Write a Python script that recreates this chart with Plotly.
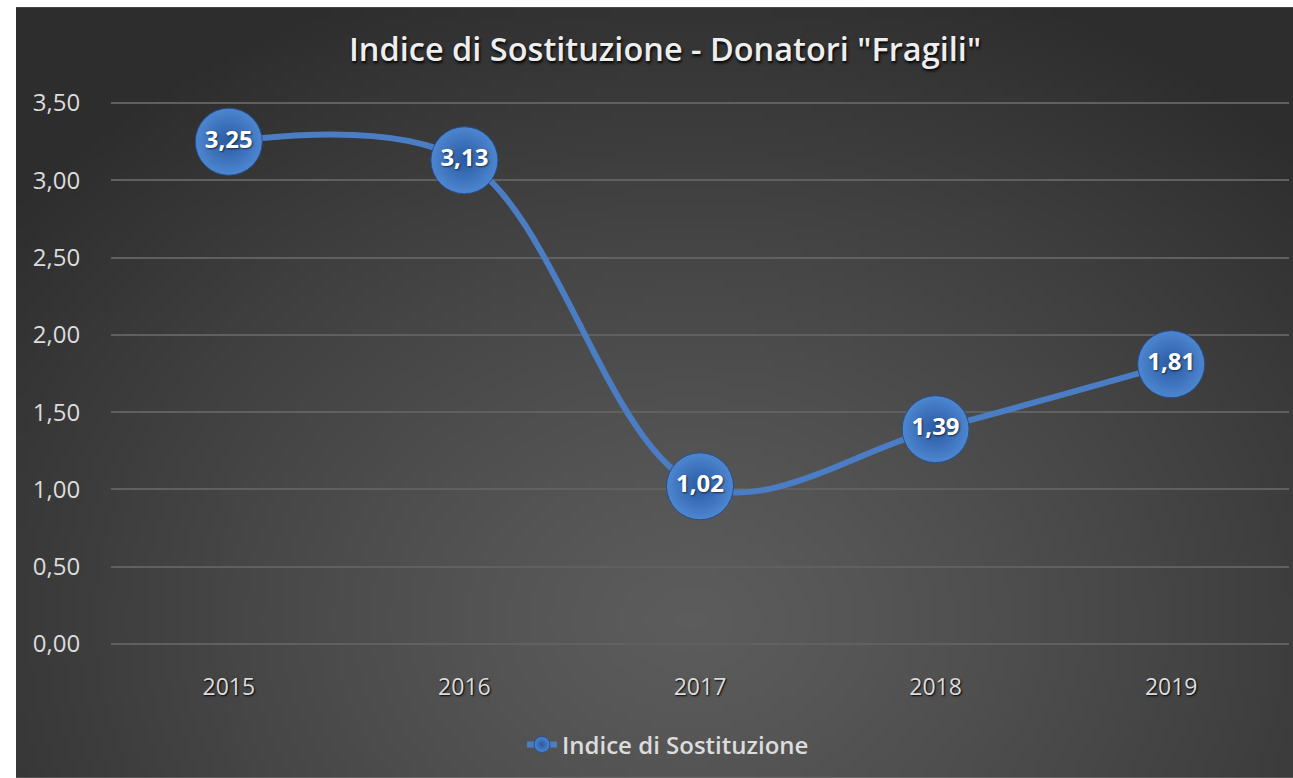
import base64, struct, zlib, math
import plotly.graph_objects as go

# ---- data ----
years = ["2015", "2016", "2017", "2018", "2019"]
indice = [3.25, 3.13, 1.02, 1.39, 1.81]
y_ticks = [0, 0.5, 1, 1.5, 2, 2.5, 3, 3.5]
title_text = 'Indice di Sostituzione - Donatori "Fragili"'
series_name = "Indice di Sostituzione"

# ---- background gradient image (styling only) ----
W_IMG, H_IMG = 160, 100
BG_W, BG_H = 1277, 771  # px area covered (from x=16, y=7)
cx, cy = (690 - 16) / BG_W, (620 - 7) / BG_H
rows = []
for j in range(H_IMG):
    row = bytearray()
    for i in range(W_IMG):
        u = (i + 0.5) / W_IMG
        v = (j + 0.5) / H_IMG
        dx = (u - cx) * BG_W / 860.0
        dy = (v - cy) * BG_H / 680.0
        d = min(1.0, math.sqrt(dx * dx + dy * dy))
        c = int(round(92 + (45 - 92) * d ** 1.2))
        row += bytes([c, c, c])
    rows.append(bytes(row))


def make_png(w, h, rows):
    raw = b"".join(b"\x00" + r for r in rows)

    def chunk(t, data):
        c = struct.pack(">I", len(data)) + t + data
        return c + struct.pack(">I", zlib.crc32(t + data) & 0xFFFFFFFF)

    return (b"\x89PNG\r\n\x1a\n" + chunk(b"IHDR", struct.pack(">IIBBBBB", w, h, 8, 2, 0, 0, 0))
            + chunk(b"IDAT", zlib.compress(raw, 9)) + chunk(b"IEND", b""))


bg_uri = "data:image/png;base64," + base64.b64encode(make_png(W_IMG, H_IMG, rows)).decode()

# ---- geometry ----
FIG_W, FIG_H = 1293, 778
Y_PAD = 0.02
PX_PER_UNIT = (644 - 103) / 3.5
L, R = 111, 4
T = 103 - Y_PAD * PX_PER_UNIT
B = FIG_H - 644 - Y_PAD * PX_PER_UNIT
PW, PH = FIG_W - L - R, FIG_H - T - B

FONT = "Open Sans"
TXT = "#dcdcdc"

fig = go.Figure()
fig.add_trace(go.Scatter(
    x=years, y=indice, name=series_name,
    mode="lines+markers+text",
    line=dict(color="#4a7dc4", width=6, shape="spline", smoothing=1.0),
    marker=dict(size=67, color="#4d86d0",
                gradient=dict(type="radial", color="#2a5aa2"),
                line=dict(color="#244f90", width=1)),
    texttemplate="%{y:.2f}", textposition="middle center",
    textfont=dict(family=FONT, size=24, color="white", weight="bold",
                  shadow="1px 1px 2px rgba(0,0,0,0.6)"),
    cliponaxis=False,
))

fig.update_layout(
    width=FIG_W, height=FIG_H,
    margin=dict(l=L, r=R, t=T, b=B, pad=0),
    paper_bgcolor="white", plot_bgcolor="rgba(0,0,0,0)",
    separators=",.",
    font=dict(family=FONT, color=TXT),
    title=dict(text=title_text, x=665 / FIG_W, xanchor="center",
               y=1 - 50 / FIG_H, yanchor="middle",
               font=dict(family=FONT, size=32.5, color="#eeeeee", weight=600,
                         shadow="1px 2px 3px #000")),
    xaxis=dict(range=[-0.5, 4.5], showgrid=False, zeroline=False, showline=False,
               ticks="outside", ticklen=19, tickcolor="rgba(0,0,0,0)",
               tickfont=dict(size=23, color=TXT, shadow="1px 1px 2px #000")),
    yaxis=dict(range=[-Y_PAD, 3.5 + Y_PAD], tickvals=y_ticks, tickformat=".2f",
               showgrid=True, gridcolor="#606060", gridwidth=1.5,
               zeroline=False, showline=False,
               ticks="outside", ticklen=25, tickcolor="rgba(0,0,0,0)",
               tickfont=dict(size=24, color=TXT)),
    showlegend=True,
    legend=dict(orientation="h", x=(668 - L) / PW, xanchor="center",
                y=(T + PH - 745) / PH, yanchor="middle",
                bgcolor="rgba(0,0,0,0)",
                font=dict(size=24, color=TXT, weight=600)),
    images=[dict(source=bg_uri, xref="paper", yref="paper",
                 x=(16 - L) / PW, y=(T + PH - 7) / PH,
                 sizex=BG_W / PW, sizey=BG_H / PH,
                 xanchor="left", yanchor="top", sizing="stretch", layer="below")],
)

fig.write_html(
    "out.html",
    config={"displayModeBar": False},
    post_script="document.body.style.margin='0';document.body.style.overflow='hidden';",
)
